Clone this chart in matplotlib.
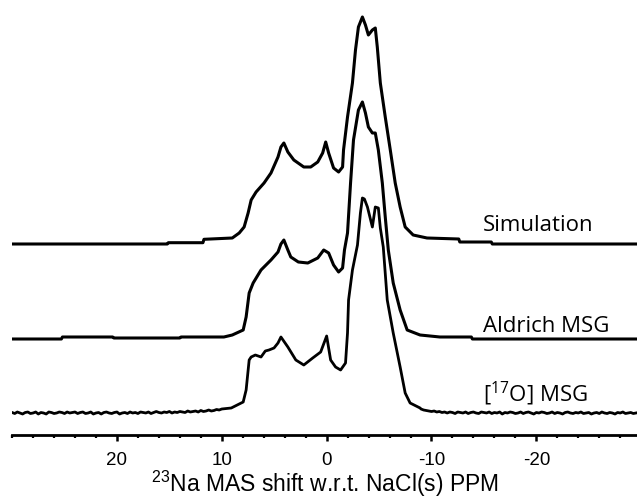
import numpy as np
import matplotlib
matplotlib.use('Agg')
import matplotlib.pyplot as plt
from matplotlib.ticker import MultipleLocator

# 23Na MAS spectra, intensity in arbitrary units
sim_ppm = [30, 15.2, 15.1, 11.8, 11.7, 9.0, 8.34, 7.87, 7.49, 7.20, 6.73, 5.97, 5.31, 4.64, 4.36, 4.08,
           3.70, 3.13, 2.18, 1.52, 0.85, 0.38, 0.09, -0.19, -0.66, -1.14, -1.52, -1.61, -1.99, -2.46,
           -2.75, -3.03, -3.41, -3.70, -3.98, -4.36, -4.64, -4.83, -5.12, -5.59, -6.07, -6.54, -7.01,
           -7.49, -8.25, -9.57, -12.6, -12.7, -15.7, -15.8, -30]
sim_int = [0, 0, 1.3, 1.3, 4.7, 6, 11, 17, 31, 44, 52, 61, 71, 87, 97, 101,
           92, 84, 77, 77, 82, 91, 102, 91, 76, 72, 77, 94, 127, 161,
           194, 217, 227, 219, 209, 214, 216, 197, 161, 127, 94, 61, 37,
           17, 9, 6, 5, 2, 2, 0, 0]

ald_ppm = [30, 25.3, 25.2, 20.4, 20.3, 14.0, 13.9, 9.8, 9.0, 7.96, 7.68, 7.39, 7.01, 6.26, 5.31, 4.64,
           4.36, 4.08, 3.70, 3.42, 2.70, 1.80, 0.85, 0.28, -0.19, -0.66, -1.14, -1.52, -1.70, -1.99,
           -2.28, -2.56, -3.03, -3.41, -3.70, -3.98, -4.36, -4.64, -4.93, -5.31, -5.59, -5.88, -6.35,
           -7.01, -7.68, -8.91, -10.8, -13.8, -13.9, -30]
ald_int = [-1, -1, 1, 1, 0, 0, 1, 1, 3, 8, 21, 45, 55, 68, 78, 86,
           94, 98, 88, 81, 76, 75, 80, 88, 85, 73, 66, 70, 88, 105,
           155, 198, 228, 236, 225, 211, 205, 205, 188, 155, 121, 88, 55,
           28, 8, 3, 1, 1, -1, -1]

o17_ppm = [9.10, 7.96, 7.68, 7.39, 7.20, 6.80, 6.26, 5.85, 5.50, 5.02, 4.64, 4.36, 3.70, 2.94, 2.18,
           1.33, 0.57, 0.00, -0.38, -0.85, -1.33, -1.80, -1.99, -2.09, -2.46, -2.94, -3.22, -3.41,
           -3.60, -3.89, -4.36, -4.64, -4.93, -5.12, -5.40, -5.78, -6.35, -7.01, -7.49, -7.96, -8.91]
o17_int = [5, 11, 23, 53, 56, 58, 56, 62, 63, 65, 70, 76, 66, 53, 48,
           55, 61, 77, 53, 46, 43, 50, 80, 113, 143, 168, 200, 215,
           214, 206, 186, 206, 205, 185, 166, 113, 80, 46, 20, 10, 5]
# noisy baseline of the [17O] MSG trace, every 0.25 ppm
o17_left = [0.5, -0.5, 1.0, 0.0, -1.0, 0.5, 1.0, -0.5, 0.0, 1.0, -1.0, 0.5, 0.0, -1.0, 1.0, 0.5,
            -0.5, 0.0, 1.0, 0.5, -0.5, 1.0, 0.0, 0.5, 1.0, -0.5, 0.5, 1.0, -0.5, 0.0, 1.0, -1.0,
            0.0, 0.5, -1.0, 0.5, 1.0, 0.0, -0.5, 0.5, 1.0, -1.0, 0.0, 0.5, -0.5, 1.0, 0.0, 0.5,
            -0.5, 1.0, 0.5, 0.0, 1.0, -0.5, 0.5, 1.5, 0.5, 0.0, 1.0, 0.5, 1.5, 0.0, 1.0, 0.5,
            1.5, 1.0, 0.5, 2.0, 1.0, 1.5, 2.0, 1.0, 2.5, 1.5, 2.0, 3.0, 2.0, 2.5, 3.5, 3.0, 4.0]
o17_right = [4.0, 3.0, 2.5, 2.0, 1.5, 2.0, 1.0, 1.5, 0.5, 1.0, 0.0, 1.0, 0.5, -0.5, 1.0, 0.5,
             0.0, 1.0, -0.5, 0.5, 1.0, 0.0, -0.5, 1.0, 0.5, 0.0, 1.0, -0.5, 0.5, 0.0, 1.0, -1.0,
             0.5, 0.0, 1.0, 0.5, -0.5, 0.0, 1.0, -0.5, 0.5, 1.0, 0.0, -1.0, 0.5, 0.0, 1.0, 0.5,
             -0.5, 0.0, 1.0, -0.5, 0.5, 0.0, -1.0, 0.5, 1.0, 0.0, -0.5, 0.5, 0.0, 1.0, -0.5, 0.0,
             0.5, -1.0, 0.0, 0.5, -0.5, 1.0, 0.0, -0.5, 0.5, 0.0, -1.0, 0.5, 0.0, 1.0, -0.5, 0.0,
             0.5, -0.5, 0.0, 0.5, 0.0]

offsets = {'Simulation': 191, 'Aldrich MSG': 97, 'o17': 22}

left_ppm = np.linspace(30, 10, len(o17_left))
right_ppm = np.linspace(-9, -30, len(o17_right))
o17_x = np.concatenate([left_ppm, o17_ppm, right_ppm])
o17_y = np.concatenate([o17_left, o17_int, o17_right])

fig = plt.figure(figsize=(6.37, 5.0), dpi=100)
ax = fig.add_axes([0.019, 0.13, 0.981, 0.87])

ax.plot(sim_ppm, np.array(sim_int) + offsets['Simulation'], color='black', lw=2.2)
ax.plot(ald_ppm, np.array(ald_int) + offsets['Aldrich MSG'], color='black', lw=2.2)
ax.plot(o17_x, o17_y + offsets['o17'], color='black', lw=2.0)

ax.set_xlim(30, -29.6)
ax.set_ylim(0, 435)

lab_font = 'Open Sans'
ax.text(-14.9, 204, 'Simulation', fontsize=16, family=lab_font, va='baseline')
ax.text(-14.9, 103, 'Aldrich MSG', fontsize=16, family=lab_font, va='baseline')
ax.text(-14.9, 33, r'[$\mathregular{^{17}}$O] MSG', fontsize=16, family=lab_font, va='baseline')

for s in ['left', 'top', 'right']:
    ax.spines[s].set_visible(False)
ax.spines['bottom'].set_linewidth(2.0)
ax.set_yticks([])
ax.xaxis.set_major_locator(MultipleLocator(10))
ax.xaxis.set_minor_locator(MultipleLocator(2))
ax.tick_params(axis='x', which='major', direction='out', length=4, width=1.8, pad=8)
ax.tick_params(axis='x', which='minor', direction='out', length=2.5, width=1.6)
ax.set_xticks([20, 10, 0, -10, -20])
ax.set_xticklabels(['20', '10', '0', '-10', '-20'], fontsize=13.5, family='Liberation Sans')
ax.set_xlabel(r'$\mathregular{^{23}}$Na MAS shift w.r.t. NaCl(s) PPM', fontsize=16.5,
              family='Liberation Sans', labelpad=0)

fig.savefig('out.png', dpi=100)
